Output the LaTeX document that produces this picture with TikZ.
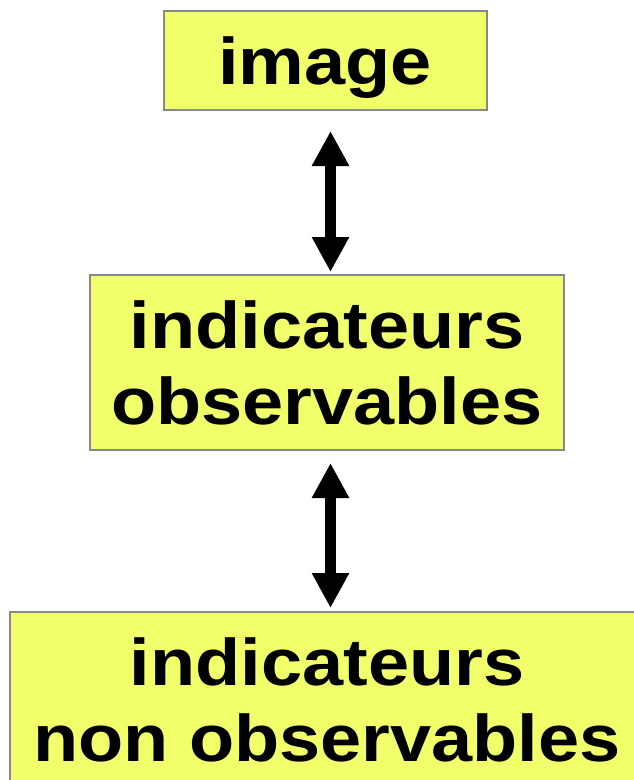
\documentclass[tikz,border=0pt]{standalone}
\usepackage{fontspec}
\setmainfont[FakeStretch=1.12]{Liberation Sans}
\usetikzlibrary{arrows.meta}
\definecolor{boxyellow}{RGB}{240,255,106}
\definecolor{boxgray}{RGB}{136,136,136}
\tikzset{
	box/.style={draw=boxgray, line width=2pt, fill=boxyellow, align=center, inner sep=0pt,
		font=\fontsize{66}{76}\selectfont\bfseries},
	dbl/.style={line width=11pt, {Triangle[length=35pt,width=35pt]}-{Triangle[length=35pt,width=35pt]}}
}
\begin{document}
\begin{tikzpicture}[x=1pt,y=1pt]
	\useasboundingbox (0,0) rectangle (634,-780);
	\clip (0,0) rectangle (634,-780);
	\node[box, minimum width=323pt, minimum height=99pt, text depth=0pt] (img) at (325,-60.5) {image};
	\node[box, minimum width=474pt, minimum height=175pt] (obs) at (327,-362.5) {indicateurs\\observables};
	\node[box, minimum width=634pt, minimum height=176pt] (nobs) at (327,-700) {indicateurs\\non observables};
	\draw[dbl, shorten <=20pt, shorten >=2pt] ([xshift=3.5pt]obs.north |- img.south) -- ([xshift=3.5pt]obs.north);
	\draw[dbl, shorten <=12pt, shorten >=3pt] ([xshift=3.5pt]obs.south) -- ([xshift=3.5pt]nobs.north);
\end{tikzpicture}
\end{document}
